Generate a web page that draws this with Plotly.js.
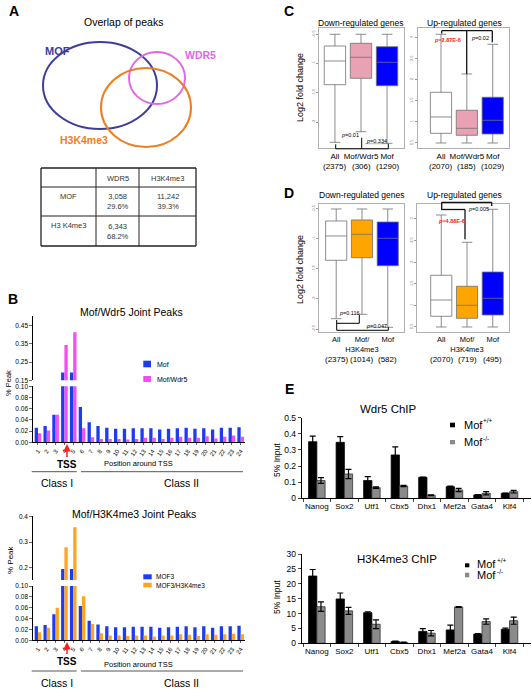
<!DOCTYPE html>
<html><head><meta charset="utf-8">
<script src="https://cdn.plot.ly/plotly-3.0.1.min.js"></script>
<style>html,body{margin:0;padding:0;background:#fff;}#chart{width:532px;height:689px;}</style>
</head><body><div id="chart"></div>
<script>
// ---------- DATA ----------
const positions = ['1','2','3','4','5','6','7','8','9','10','11','12','13','14','15','16','17','18','19','20','21','22','23','24'];
const mofPeaks      = [0.026,0.029,0.049,0.193,0.193,0.063,0.036,0.029,0.026,0.024,0.024,0.025,0.025,0.025,0.023,0.024,0.025,0.026,0.024,0.025,0.023,0.026,0.026,0.027];
const mofWdr5Peaks  = [0.016,0.021,0.049,0.344,0.414,0.025,0.009,0.006,0.006,0.006,0.005,0.006,0.008,0.008,0.006,0.008,0.010,0.008,0.008,0.011,0.007,0.010,0.012,0.010];
const mof3Peaks     = [0.026,0.028,0.048,0.193,0.193,0.063,0.036,0.029,0.026,0.024,0.024,0.025,0.025,0.025,0.023,0.024,0.025,0.026,0.024,0.026,0.023,0.026,0.026,0.027];
const mof3H3Peaks   = [0.015,0.023,0.060,0.279,0.359,0.081,0.030,0.013,0.009,0.009,0.008,0.009,0.009,0.007,0.009,0.009,0.011,0.010,0.008,0.011,0.010,0.011,0.012,0.011];

const tableCols = ['', 'WDR5', 'H3K4me3'];
const tableRows = ['MOF', 'H3 K4me3'];
const tableCells = [['3,058<br>29.6%', '11,242<br>39.3%'], ['6,343<br>68.2%', '']];

// box plot summaries (Log2 fold change)
const cNames = ['All', 'Mof/Wdr5', 'Mof'];
const cDownN = ['(2375)', '(306)', '(1290)'];
const cDownQ1 = [-1.360, -1.251, -1.377];
const cDownMed = [-0.956, -0.892, -0.978];
const cDownQ3 = [-0.700, -0.654, -0.712];
const cDownLo = [-2.343, -2.162, -2.360];
const cDownHi = [-0.5, -0.5, -0.5];

const cUpN = ['(2070)', '(185)', '(1029)'];
const cUpQ1 = [0.730, 0.683, 0.714];
const cUpMed = [1.118, 0.849, 1.039];
const cUpQ3 = [1.704, 1.277, 1.586];
const cUpLo = [0.5, 0.5, 0.5];
const cUpHi = [3.082, 2.139, 2.844];

const dNames = ['All', 'Mof/<br>H3K4me3', 'Mof'];
const dDownN = ['(2375)', '(1014)', '(582)'];
const dDownQ1 = [-1.355, -1.312, -1.445];
const dDownMed = [-0.950, -0.922, -0.988];
const dDownQ3 = [-0.700, -0.683, -0.717];
const dDownLo = [-2.328, -2.255, -2.472];
const dDownHi = [-0.5, -0.5, -0.5];

const dUpN = ['(2070)', '(719)', '(495)'];
const dUpQ1 = [0.748, 0.701, 0.778];
const dUpMed = [1.125, 1.002, 1.164];
const dUpQ3 = [1.697, 1.442, 1.773];
const dUpLo = [0.5, 0.5, 0.5];
const dUpHi = [3.093, 2.461, 3.225];

const genes = ['Nanog','Sox2','Utf1','Cbx5','Dhx1','Mef2a','Gata4','Klf4'];
const wdr5WT = [0.351,0.347,0.110,0.269,0.130,0.072,0.021,0.031];
const wdr5WTErr = [0.035,0.035,0.024,0.050,0.002,0.003,0.002,0.002];
const wdr5KO = [0.110,0.151,0.066,0.076,0.019,0.052,0.031,0.041];
const wdr5KOErr = [0.018,0.029,0.005,0.004,0.002,0.010,0.010,0.008];
const h3WT = [22.6,14.9,10.3,0.6,4.0,4.5,3.1,4.7];
const h3WTErr = [2.2,2.0,0.3,0.1,0.9,1.6,0.2,0.4];
const h3KO = [12.3,10.9,6.4,0.3,3.4,12.2,7.3,7.6];
const h3KOErr = [1.6,1.2,1.5,0.1,0.9,0.1,0.9,1.2];

// ---------- HELPERS ----------
const W = 532, H = 689;
const FONT = 'Liberation Sans, Arial, sans-serif';
const X = p => p / W;
const Y = p => 1 - p / H;
const dx = (a, b) => [X(a), X(b)];
const dy = (top, bottom) => [Y(bottom), Y(top)];

const annotations = [];
const shapes = [];
function T(x, y, text, size, o) {
  o = o || {};
  annotations.push({xref:'paper', yref:'paper', x:X(x), y:Y(y), text:text, showarrow:false,
    font:{size:size, color:o.color || '#000', family:FONT},
    xanchor:o.xa || 'center', yanchor:'middle', textangle:o.angle || 0});
}
function L(x0, y0, x1, y1, color, width) {
  shapes.push({type:'line', xref:'paper', yref:'paper', x0:X(x0), y0:Y(y0), x1:X(x1), y1:Y(y1),
    line:{color:color || '#000', width:width || 1}});
}
function R(x0, y0, x1, y1, fill) {
  shapes.push({type:'rect', xref:'paper', yref:'paper', x0:X(x0), y0:Y(y0), x1:X(x1), y1:Y(y1),
    fillcolor:fill, line:{width:0}});
}
function E(x0, y0, x1, y1, color) {
  shapes.push({type:'circle', xref:'paper', yref:'paper', x0:X(x0), y0:Y(y0), x1:X(x1), y1:Y(y1),
    line:{color:color, width:2}});
}
function counts(xref, labels, ypx) {
  labels.forEach((t, i) => annotations.push({xref:xref, yref:'paper', x:i, y:Y(ypx), text:t, showarrow:false,
    font:{size:8, family:FONT, color:'#000'}, xanchor:'center', yanchor:'middle'}));
}

// ---------- PANEL A ----------
T(14, 11, '<b>A</b>', 14);
T(123, 22, 'Overlap of peaks', 10.5);
E(43, 42, 157, 129, '#3d3d9e');
E(129, 52, 185, 104, '#e466e8');
E(101, 68, 191, 147, '#f07e1e');
T(57, 51, '<b>MOF</b>', 11, {color:'#3d3d9e'});
T(200, 55, '<b>WDR5</b>', 10.5, {color:'#e466e8'});
T(84, 140, '<b>H3K4me3</b>', 10.5, {color:'#f07e1e'});
const tX = [41, 96, 139, 196], tY = [168, 187, 216, 246];
L(tX[0], tY[0], tX[3], tY[0], '#222', 1.3); L(tX[0], tY[3], tX[3], tY[3], '#222', 1.3);
L(tX[0], tY[0], tX[0], tY[3], '#222', 1.3); L(tX[3], tY[0], tX[3], tY[3], '#222', 1.3);
L(tX[1], tY[0], tX[1], tY[3], '#222', 1); L(tX[2], tY[0], tX[2], tY[3], '#222', 1);
L(tX[0], tY[1], tX[3], tY[1], '#222', 1); L(tX[0], tY[2], tX[3], tY[2], '#222', 1);
tableCols.forEach((c, i) => { if (c) T((tX[i] + tX[i+1]) / 2, 178, c, 7.5, {color:'#333'}); });
tableRows.forEach((r, j) => {
  T((tX[0] + tX[1]) / 2, j === 0 ? 196 : 225, r, 7.5, {color:'#333'});
  tableCells[j].forEach((v, i) => { if (v) T((tX[i+1] + tX[i+2]) / 2, (tY[j+1] + tY[j+2]) / 2, v, 7.5, {color:'#333'}); });
});

// ---------- PANEL B ----------
const BLUE = '#1c3cf2', PINK = '#f050f0', ORANGE = '#ffa321';
const traces = [];
function barPair(a, b, ca, cb, xa, ya) {
  traces.push({type:'bar', x:positions, y:a, marker:{color:ca}, width:0.375, offset:-0.375, xaxis:xa, yaxis:ya, hoverinfo:'skip', showlegend:false});
  traces.push({type:'bar', x:positions, y:b, marker:{color:cb}, width:0.375, offset:0, xaxis:xa, yaxis:ya, hoverinfo:'skip', showlegend:false});
}
barPair(mofPeaks, mofWdr5Peaks, BLUE, PINK, 'x', 'y');
barPair(mofPeaks, mofWdr5Peaks, BLUE, PINK, 'x2', 'y2');
barPair(mof3Peaks, mof3H3Peaks, BLUE, ORANGE, 'x3', 'y3');
barPair(mof3Peaks, mof3H3Peaks, BLUE, ORANGE, 'x4', 'y4');

const bXRange = [-0.53, 23.49];
const bXdom = dx(33.3, 245);
function bX(anchor, visible) {
  return {domain:bXdom, anchor:anchor, type:'category', range:bXRange, visible:visible,
    showline:true, linecolor:'#000', linewidth:1, ticks:'outside', ticklen:2, tickwidth:0.8,
    tickangle:-55, tickfont:{size:6, family:FONT, color:'#000'}, showgrid:false, zeroline:false, fixedrange:true};
}
function bY(anchor, domain, range, tickvals, ticktext) {
  return {domain:domain, anchor:anchor, range:range, tickvals:tickvals, ticktext:ticktext,
    showline:true, linecolor:'#000', linewidth:1, ticks:'outside', ticklen:3, tickwidth:0.8,
    tickfont:{size:6.5, family:FONT, color:'#000'}, showgrid:false, zeroline:false, fixedrange:true};
}
T(131, 312, 'Mof/Wdr5 Joint Peaks', 10.5);
T(13, 299, '<b>B</b>', 14);
T(8, 383, '% Peak', 7.5, {angle:-90});
R(143.3, 360.7, 151, 367.3, BLUE); T(155, 364, 'Mof', 7, {xa:'left'});
R(143.3, 376, 151, 382, PINK); T(155, 379, 'Mof/Wdr5', 7, {xa:'left'});
T(138, 463, 'Position around TSS', 7.5);
L(31.7, 471.7, 76.7, 471.7, '#555', 1); L(81, 471.7, 243, 471.7, '#555', 1);
T(56.7, 483, 'Class I', 10.5); T(181.7, 483, 'Class II', 10.5);
annotations.push({xref:'paper', yref:'paper', x:X(67), y:Y(444), ax:0, ay:20, text:'<b>TSS</b>',
  showarrow:true, arrowcolor:'#ff2020', arrowhead:2, arrowwidth:1.5, arrowsize:1,
  font:{size:10, family:FONT, color:'#000'}});

T(134, 514, 'Mof/H3K4me3 Joint Peaks', 10.5);
T(10, 560, '% Peak', 8, {angle:-90});
R(143.3, 574.3, 151.7, 579.3, BLUE); T(154, 576.7, 'MOF3', 6.5, {xa:'left'});
R(143.3, 582.7, 151.7, 587.3, ORANGE); T(154, 585, 'MOF3/H3K4me3', 6.5, {xa:'left'});
T(138, 664, 'Position around TSS', 7.5);
L(31.7, 671, 76.7, 671, '#555', 1); L(81, 671, 243, 671, '#555', 1);
T(56.7, 683, 'Class I', 10.5); T(181.7, 683, 'Class II', 10.5);
annotations.push({xref:'paper', yref:'paper', x:X(67), y:Y(642), ax:0, ay:19, text:'<b>TSS</b>',
  showarrow:true, arrowcolor:'#ff2020', arrowhead:2, arrowwidth:1.5, arrowsize:1,
  font:{size:10, family:FONT, color:'#000'}});

// ---------- PANELS C & D (box plots) ----------
const boxFills = [['#ffffff', '#e8a2b3', '#0000ff'], ['#ffffff', '#ffa500', '#0000ff']];
function boxes(q1, med, q3, lo, hi, fills, xa, ya) {
  for (let i = 0; i < 3; i++) {
    traces.push({type:'box', x:[i], q1:[q1[i]], median:[med[i]], q3:[q3[i]], lowerfence:[lo[i]], upperfence:[hi[i]],
      fillcolor:fills[i], line:{color:'#707070', width:0.8}, width:0.82, whiskerwidth:0.5,
      boxpoints:false, xaxis:xa, yaxis:ya, hoverinfo:'skip', showlegend:false});
  }
}
boxes(cDownQ1, cDownMed, cDownQ3, cDownLo, cDownHi, boxFills[0], 'x5', 'y5');
boxes(cUpQ1, cUpMed, cUpQ3, cUpLo, cUpHi, boxFills[0], 'x6', 'y6');
boxes(dDownQ1, dDownMed, dDownQ3, dDownLo, dDownHi, boxFills[1], 'x7', 'y7');
boxes(dUpQ1, dUpMed, dUpQ3, dUpLo, dUpHi, boxFills[1], 'x8', 'y8');

function boxX(anchor, domain, range, labels, fs) {
  return {domain:domain, anchor:anchor, range:range, tickvals:[0,1,2], ticktext:labels, tickangle:0,
    showline:true, mirror:true, linecolor:'#b0b0b0', linewidth:1, ticks:'', showgrid:false, zeroline:false,
    tickfont:{size:fs, family:FONT, color:'#000'}, fixedrange:true};
}
function boxY(anchor, domain, range, tickvals) {
  return {domain:domain, anchor:anchor, range:range, tickvals:tickvals, ticktext:tickvals.map(v => String(v)),
    showline:true, mirror:true, linecolor:'#b0b0b0', linewidth:1, ticks:'outside', ticklen:2, tickcolor:'#999',
    tickangle:-90, tickfont:{size:4, family:FONT, color:'#777'}, showgrid:false, zeroline:false, fixedrange:true};
}
T(289, 11, '<b>C</b>', 14);
T(361, 23, 'Down-regulated genes', 8.5);
T(464, 23, 'Up-regulated genes', 8.5);
T(300, 88, 'Log2 fold change', 9, {angle:-90});
counts('x5', cDownN, 166);
counts('x6', cUpN, 166);
L(335.7, 144.3, 335.7, 148.8); L(335.7, 148.8, 388.3, 148.8); L(361.7, 137.7, 361.7, 148.8);
L(365, 143.7, 388.3, 143.7, '#888', 0.6); L(388.3, 143.7, 388.3, 148.8);
T(350, 134.5, '<i>p</i>=0.01', 5.5); T(376, 141, '<i>p</i>=0.334', 5.5);
L(441.7, 30.7, 492.3, 30.7, '#111', 1.3); L(441.7, 30.7, 441.7, 33.5, '#111', 1.3);
L(466.7, 30.7, 466.7, 74, '#111', 1.3); L(492.3, 30.7, 492.3, 42.3, '#111', 1.3);
T(447.3, 40, '<b><i>p</i>=2.87E-6</b>', 5.5, {color:'#ff2020'}); T(480.3, 37.7, '<i>p</i>=0.02', 5.5);

T(289, 193, '<b>D</b>', 14);
T(362, 195, 'Down-regulated genes', 8.5);
T(464, 195, 'Up-regulated genes', 8.5);
T(300, 270, 'Log2 fold change', 9, {angle:-90});
counts('x7', dDownN, 359);
counts('x8', dUpN, 359);
L(336.7, 320, 336.7, 330.3); L(336.7, 323.3, 359.3, 323.3); L(359.3, 315, 359.3, 323.3);
L(336.7, 330.3, 388.3, 330.3); L(388.3, 327, 388.3, 330.3); L(366, 327.3, 388.3, 327.3, '#888', 0.6);
T(349.3, 313.3, '<i>p</i>=0.116', 5.5); T(376.7, 325.5, '<i>p</i>=0.047', 5.5);
L(441.7, 202.3, 491.7, 202.3, '#111', 1.3); L(441.7, 202.3, 441.7, 210, '#111', 1.3);
L(441.7, 209.5, 465, 209.5, '#111', 1.3); L(465, 209.5, 465, 239.3, '#111', 1.3);
L(491.7, 202.3, 491.7, 206, '#111', 1.3);
T(478, 208.5, '<i>p</i>=0.005', 5.5); T(451.7, 221, '<b><i>p</i>=4.88E-6</b>', 5.5, {color:'#ff2020'});

// ---------- PANEL E ----------
function ePair(a, ae, b, be, xa, ya) {
  traces.push({type:'bar', x:genes, y:a, width:0.3, offset:-0.3, marker:{color:'#000', line:{color:'#000', width:0.8}},
    error_y:{type:'data', array:ae, visible:true, color:'#000', thickness:1.2, width:3},
    xaxis:xa, yaxis:ya, hoverinfo:'skip', showlegend:false});
  traces.push({type:'bar', x:genes, y:b, width:0.3, offset:0, marker:{color:'#8a8a8a', line:{color:'#333', width:0.8}},
    error_y:{type:'data', array:be, visible:true, color:'#000', thickness:1.2, width:3},
    xaxis:xa, yaxis:ya, hoverinfo:'skip', showlegend:false});
}
ePair(wdr5WT, wdr5WTErr, wdr5KO, wdr5KOErr, 'x9', 'y9');
ePair(h3WT, h3WTErr, h3KO, h3KOErr, 'x10', 'y10');
function eX(anchor) {
  return {domain:dx(301.7, 531), anchor:anchor, type:'category', range:[-0.55, 7.78], tickangle:0,
    showline:true, linecolor:'#000', linewidth:1, ticks:'outside', ticklen:3, tickson:'boundaries',
    tickfont:{size:8, family:FONT, color:'#000'}, showgrid:false, zeroline:false, fixedrange:true};
}
function eY(anchor, domain, range, tickvals) {
  return {domain:domain, anchor:anchor, range:range, tickvals:tickvals, ticktext:tickvals.map(v => String(v)),
    showline:true, linecolor:'#000', linewidth:1, ticks:'outside', ticklen:3,
    tickfont:{size:8.5, family:FONT, color:'#000'}, showgrid:false, zeroline:false, fixedrange:true};
}
T(289, 389, '<b>E</b>', 14);
T(388, 408.5, 'Wdr5 ChIP', 11.5);
T(277, 460, '5% Input', 8.5, {angle:-90});
R(450, 422.7, 455, 427.3, '#000'); T(461.7, 424.5, 'Mof', 11, {xa:'left'}); T(481, 420.5, '+/+', 6.5, {xa:'left'});
R(450, 440, 455, 444.3, '#8a8a8a'); T(461.7, 442, 'Mof', 11, {xa:'left'}); T(481, 438, '-/-', 6.5, {xa:'left'});
T(397, 558.5, 'H3K4me3 ChIP', 11.5);
T(277, 597, '5% Input', 8.5, {angle:-90});
R(465, 563.3, 469.3, 567.3, '#000'); T(475, 564, 'Mof', 11, {xa:'left'}); T(494.5, 560, '+/+', 6.5, {xa:'left'});
R(465, 572.7, 469.3, 577.3, '#8a8a8a'); T(475, 575, 'Mof', 11, {xa:'left'}); T(494.5, 571, '-/-', 6.5, {xa:'left'});

// ---------- LAYOUT ----------
const layout = {
  width:W, height:H, margin:{l:0, r:0, t:0, b:0}, paper_bgcolor:'#fff', plot_bgcolor:'rgba(0,0,0,0)',
  showlegend:false, barmode:'overlay', boxmode:'overlay', font:{family:FONT, color:'#000'},
  xaxis: bX('y', true),
  yaxis: bY('x', dy(386.3, 442.3), [0, 0.10], [0,0.02,0.04,0.06,0.08,0.10], ['0.00','0.02','0.04','0.06','0.08','0.10']),
  xaxis2: bX('y2', false),
  yaxis2: bY('x2', dy(316, 380.3), [0.15, 0.503], [0.15,0.25,0.35,0.45], ['0.15','0.25','0.35','0.45']),
  xaxis3: bX('y3', true),
  yaxis3: bY('x3', dy(586, 640.3), [0, 0.10], [0,0.02,0.04,0.06,0.08,0.10], ['0.00','0.02','0.04','0.06','0.08','0.10']),
  xaxis4: bX('y4', false),
  yaxis4: bY('x4', dy(515.5, 580), [0.15, 0.405], [0.2,0.3,0.4], ['0.2','0.3','0.4']),
  xaxis5: boxX('y5', dx(319.3, 404), [-0.6, 2.65], cNames, 8),
  yaxis5: boxY('x5', dy(28.3, 148.3), [-2.445, -0.398], [-0.5,-1,-1.5,-2]),
  xaxis6: boxX('y6', dx(417.7, 508.5), [-0.9, 2.61], cNames, 8),
  yaxis6: boxY('x6', dy(28.3, 148.3), [0.374, 3.224], [0.5,1,1.5,2,2.5,3]),
  xaxis7: boxX('y7', dx(319.3, 404), [-0.656, 2.63], dNames, 7.5),
  yaxis7: boxY('x7', dy(204, 332), [-2.55, -0.417], [-0.5,-1,-1.5,-2,-2.5]),
  xaxis8: boxX('y8', dx(417.3, 509), [-0.93, 2.63], dNames, 7.5),
  yaxis8: boxY('x8', dy(204, 332), [0.384, 3.347], [0.5,1,1.5,2,2.5,3]),
  xaxis9: eX('y9'),
  yaxis9: eY('x9', dy(417.7, 498.3), [0, 0.5], [0,0.1,0.2,0.3,0.4,0.5]),
  xaxis10: eX('y10'),
  yaxis10: eY('x10', dy(554, 643.3), [0, 30], [0,5,10,15,20,25,30]),
  annotations: annotations,
  shapes: shapes
};
Plotly.newPlot('chart', traces, layout, {staticPlot:true, displayModeBar:false});
</script>
</body></html>
